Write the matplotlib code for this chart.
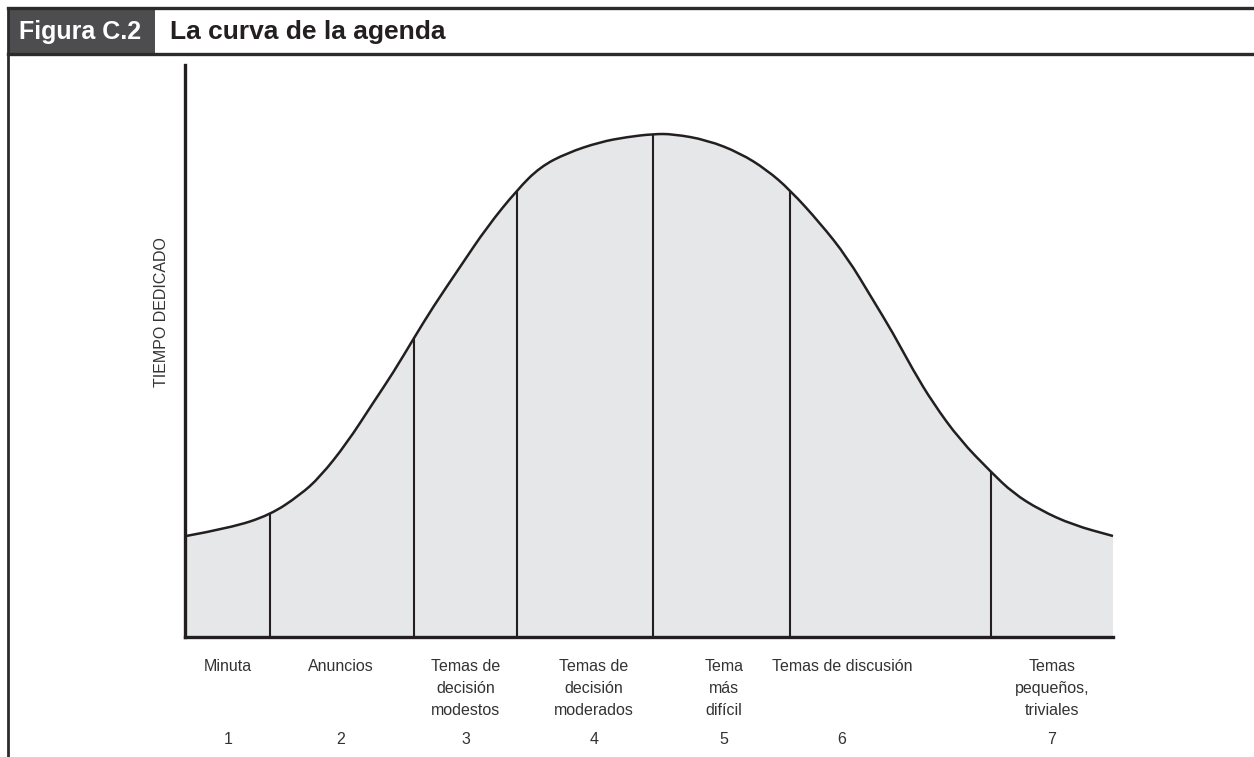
import numpy as np
import matplotlib.pyplot as plt
from matplotlib.patches import Rectangle, PathPatch
from matplotlib.lines import Line2D
from matplotlib.path import Path
import matplotlib.transforms as mtransforms

plt.rcParams['font.family'] = ['Liberation Sans', 'DejaVu Sans']

# Curve (x along the agenda, height = time spent)
curve_x = [1, 45, 85, 115, 135, 162, 188, 208, 229, 248, 275, 302, 332, 355,
           382, 415, 442, 468, 488, 522, 555, 582, 605, 635, 662, 688, 708,
           728, 748, 775, 806, 828, 855, 888, 928]
curve_h = [101, 109, 122, 142, 160, 194, 234, 264, 299, 330, 370, 410, 447, 470,
           484, 495, 500, 503, 503, 497, 484, 467, 447, 414, 380, 337, 304,
           267, 234, 197, 165, 144, 127, 112, 101]

# Section boundaries and the curve height where each divider meets it
divider_x = [85, 229, 332, 468, 605, 806]
divider_h = [122, 299, 447, 503, 447, 165]

section_labels = ['Minuta', 'Anuncios', 'Temas de\ndecisión\nmodestos',
                  'Temas de\ndecisión\nmoderados', 'Tema\nmás\ndifícil',
                  'Temas de discusión', 'Temas\npequeños,\ntriviales']
section_numbers = ['1', '2', '3', '4', '5', '6', '7']
label_x = [43, 156, 281, 409, 539, 657, 867]

W, H = 1254, 757
fig = plt.figure(figsize=(W / 100, H / 100), dpi=100)
fig.patch.set_facecolor('white')

ink = '#231f20'
txt = '#333333'


def px(x, y):
    return x / W, 1 - y / H


# Header frame
fig.add_artist(Rectangle(px(8, 54), 147 / W, 46 / H, facecolor='#4d4d4f',
                         edgecolor='none', transform=fig.transFigure))
for y in (8, 54):
    x0, y0 = px(8, y)
    fig.add_artist(Line2D([x0, 1], [y0, y0], color='#2b2b2b', lw=2.4,
                          transform=fig.transFigure))
x0, y0 = px(8, 8)
fig.add_artist(Line2D([x0, x0], [y0, 0], color='#2b2b2b', lw=2.0,
                      transform=fig.transFigure))
fig.text(*px(19, 32), 'Figura C.2', color='white', fontsize=18,
         fontweight='bold', va='center', ha='left')
fig.text(*px(170, 32), 'La curva de la agenda', color=ink, fontsize=19,
         fontweight='bold', va='center', ha='left')

# Chart area
ax = fig.add_axes([185 / W, (H - 637) / H, (1113 - 185) / W, (637 - 65) / H])
ax.set_xlim(0, 928)
ax.set_ylim(0, 572)

# smooth path through the read points (quadratic segments between midpoints)
pts = list(zip(curve_x, curve_h))
verts = [pts[0]]
codes = [Path.MOVETO]
for i in range(1, len(pts) - 1):
    mid = ((pts[i][0] + pts[i + 1][0]) / 2, (pts[i][1] + pts[i + 1][1]) / 2)
    verts += [pts[i], mid]
    codes += [Path.CURVE3, Path.CURVE3]
verts.append(pts[-1])
codes.append(Path.LINETO)

fill_verts = verts + [(curve_x[-1], 0), (curve_x[0], 0), pts[0]]
fill_codes = codes + [Path.LINETO, Path.LINETO, Path.CLOSEPOLY]
area = PathPatch(Path(fill_verts, fill_codes), facecolor='#e6e7e8',
                 edgecolor='none')
ax.add_patch(area)

dividers = ax.vlines(divider_x, 0, [h + 8 for h in divider_h], color=ink, lw=1.5)
dividers.set_clip_path(area)

ax.add_patch(PathPatch(Path(verts, codes), facecolor='none', edgecolor=ink,
                       lw=1.8, clip_on=False))

for s in ['top', 'right']:
    ax.spines[s].set_visible(False)
for s in ['left', 'bottom']:
    ax.spines[s].set_linewidth(2.4)
    ax.spines[s].set_color(ink)
    ax.spines[s].set_zorder(5)
ax.set_xticks([])
ax.set_yticks([])

fig.text(*px(161, 312), 'TIEMPO DEDICADO', rotation=90, fontsize=11.5,
         color=txt, ha='center', va='center')

trans = mtransforms.blended_transform_factory(ax.transData, fig.transFigure)
for lx, lab, num in zip(label_x, section_labels, section_numbers):
    ax.text(lx, 1 - 659 / H, lab, transform=trans, ha='center', va='top',
            fontsize=11.5, color=txt, linespacing=1.6, multialignment='center')
    ax.text(lx, 1 - 739 / H, num, transform=trans, ha='center', va='center',
            fontsize=11.5, color=txt)

fig.savefig('out.png', dpi=100)
